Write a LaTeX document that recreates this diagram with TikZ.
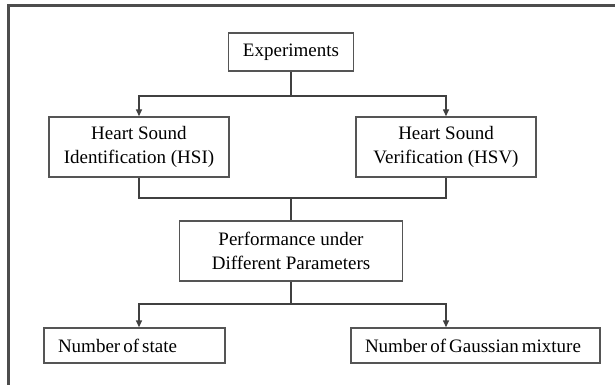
\documentclass[tikz,border=0pt]{standalone}
\usepackage{fontspec}
\setmainfont{Liberation Serif}
\usetikzlibrary{arrows.meta}
\definecolor{framegray}{HTML}{4D4D4D}
\definecolor{boxgray}{HTML}{555555}
\begin{document}
\begin{tikzpicture}[x = 1pt, y = -1pt, font = \fontsize{19}{24}\selectfont, block/.style = { draw = boxgray, line width = 1.4pt, inner sep = 0pt, align = center }, leaf/.style = { block, align = left, inner xsep = 14pt, minimum height = 35pt, execute at begin node = \spaceskip0.16em\relax }, link/.style = { line width = 1.4pt, draw = black!75 }, arrow/.style = { link, -{Triangle[length = 7pt, width = 6pt]} }]
  \useasboundingbox (0, 0) rectangle (615, 385);
  \draw [line width = 3pt, draw = framegray] (8, 386) -- (8, 6) -- (616, 6);

  \node [block, minimum width = 125pt, minimum height = 38pt] (experiments) at (291, 52) {Experiments};
  \node [block, minimum width = 180pt, minimum height = 60pt] (hsi) at (139, 147) {Heart Sound\\Identification (HSI)};
  \node [block, minimum width = 180pt, minimum height = 60pt] (hsv) at (446, 147) {Heart Sound\\Verification (HSV)};
  \node [block, minimum width = 223pt, minimum height = 60pt] (performance) at (291, 251) {Performance under\\Different Parameters};
  \node [leaf, text width = 153pt] (state) at (134.5, 345.5) {Number of state};
  \node [leaf, text width = 221pt] (mixture) at (475.5, 345.5) {\mbox{Number of Gaussian mixture}};

  \coordinate (split1) at (291, 96);
  \coordinate (join1) at (291, 198);
  \coordinate (split2) at (291, 304);

  \draw [link] (experiments.south) -- (split1);
  \draw [arrow] (split1) -| (hsi.north);
  \draw [arrow] (split1) -| (hsv.north);
  \draw [link] (hsi.south) |- (join1) -| (hsv.south);
  \draw [link] (join1) -- (performance.north);
  \draw [link] (performance.south) -- (split2);
  \draw [arrow] (split2) -| (state.north -| hsi.south);
  \draw [arrow] (split2) -| (mixture.north -| hsv.south);
\end{tikzpicture}
\end{document}
